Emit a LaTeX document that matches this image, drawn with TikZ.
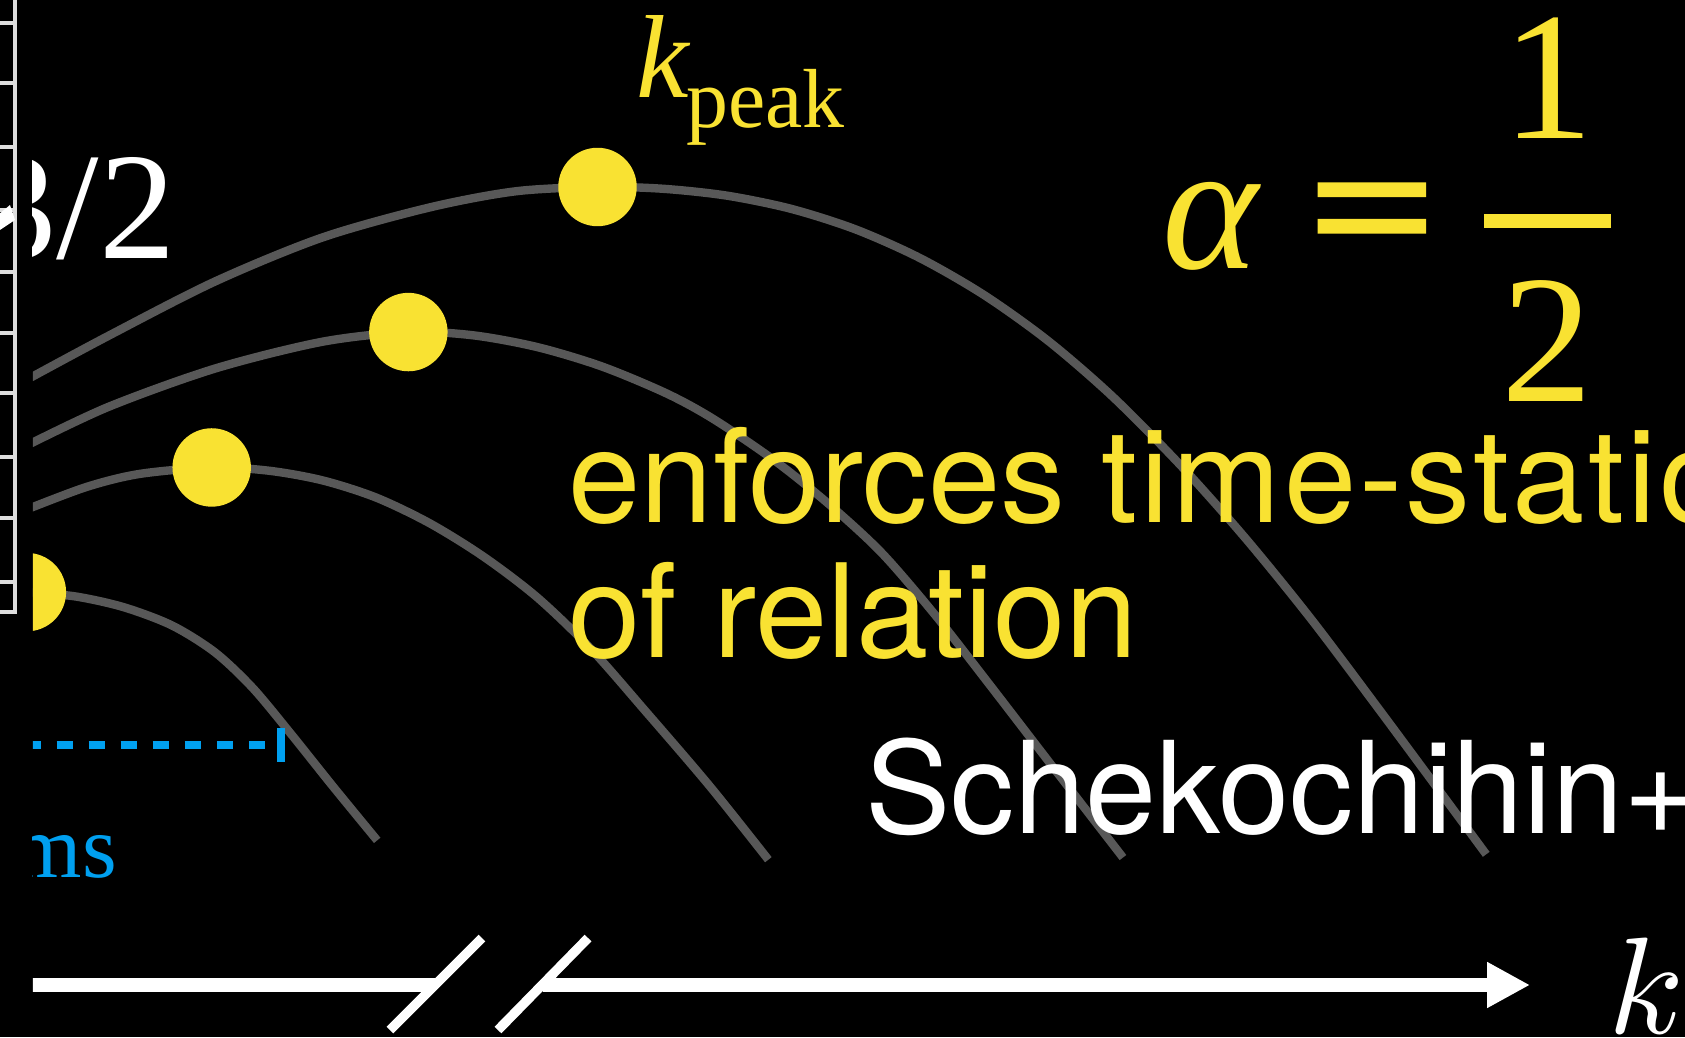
\documentclass[tikz,border=0pt]{standalone}
\usepackage{fontspec}
\newfontfamily\tms{Liberation Serif}
\newfontfamily\tmsb{Liberation Serif}[FakeBold=3]
\newfontfamily\hel{TeX Gyre Heros}
\usetikzlibrary{arrows.meta}
\definecolor{ylw}{RGB}{249,226,50}
\definecolor{crv}{RGB}{88,88,88}
\definecolor{blu}{RGB}{0,160,240}
\definecolor{frm}{RGB}{222,222,222}
\begin{document}
\begin{tikzpicture}[x=1pt,y=-1pt,
  txt/.style={inner sep=0pt,outer sep=0pt,anchor=base west},
  spec/.style={draw=crv,line width=7.8pt,line cap=butt},
  peakdot/.style={circle,fill=ylw,minimum size=73pt,inner sep=0pt},
  tick/.style={draw=frm,line width=3.7pt},
  brk/.style={draw=white,line width=8.8pt,line cap=butt}]
\useasboundingbox (0,0) rectangle (1568,965);
\fill[black] (0,0) rectangle (1568,965);
\clip (0,0) rectangle (1568,965);
% left frame
\draw[tick] (13.7,-5) -- (13.7,569.5) -- (-5,569.5);
\foreach \yy in {21.4,77.2,136.8,195.4,253.1,309.9,365.7,425.3,482,541.6}
  \draw[tick] (-5,\yy) -- (13.7,\yy);
\fill[white] (0,198.5) -- (9.3,190.8) -- (14,204.7) -- (0,214) -- cycle;
\begin{scope}
\clip (30.7,0) rectangle (1568,965);
% spectra
\draw[spec] plot[smooth] coordinates {(20,356) (100,313) (200,262) (300,221) (400,193) (480,178) (556,174) (616,175.6) (676,182) (736,194.3) (796,213.4) (856,240.1) (916,274.7) (976,317.7) (1036,369.7) (1100,434.5) (1160,502.1) (1220,576) (1280,655.7) (1340,736.7) (1383,795)};
\draw[spec] plot[smooth] coordinates {(20,417) (100,379) (200,343) (300,318) (380,309) (440,312) (500,323) (560,341) (620,366) (664,390) (720,428) (770,468) (820,514) (870,572) (920,636) (980,714) (1045,798)};
\draw[spec] plot[smooth] coordinates {(20,476) (80,453.3) (130,441) (197,435) (250,438) (300,447) (350,463) (400,487) (450,518) (500,556) (550,604) (600,661) (660,731) (715,800)};
\draw[spec] plot[smooth] coordinates {(25,551) (70,555) (115,565) (160,582) (200,607) (235,640) (270,682) (310,732) (351,782)};
\node[peakdot] (d1) at (556,174) {};
\node[peakdot] (d2) at (380,309) {};
\node[peakdot] (d3) at (197,435) {};
\node[peakdot] (d4) at (25,551) {};
% exponent text
\node[txt,text=white,font=\tms\fontsize{142}{142}\selectfont] (ex) at (-18,241) {3/2};
% blue dashed marker
\coordinate (dl) at (22.9,693);
\coordinate (dr) at (246.6,693);
\draw[blu,line width=7.5pt,dash pattern=on 15pt off 14.8pt] (dl) -- (dr);
\coordinate (bt) at (261.6,677);
\coordinate (bb) at (261.6,709);
\draw[blu,line width=7.5pt] (bt) -- (bb);
\node[txt,text=blu,font=\tms\fontsize{83}{83}\selectfont] (ms) at (12,817) {ms};
% axis
\coordinate (a0) at (20,916.6);
\coordinate (a1) at (404.8,916.6);
\coordinate (a2) at (505.3,916.6);
\coordinate (a3) at (1423.8,916.6);
\draw[white,line width=13pt] (a0) -- (a1);
\draw[white,line width=13pt,-{Triangle[length=40pt,width=40pt]}] (a2) -- (a3);
\coordinate (s1a) at (362.9,958.5);
\coordinate (s1b) at (448.5,872.9);
\coordinate (s2a) at (463.4,958.5);
\coordinate (s2b) at (547.2,872.9);
\draw[brk] (s1a) -- (s1b);
\draw[brk] (s2a) -- (s2b);
\end{scope}
% axis label
\node[txt,text=white] (kax) at (1497,962) {\scalebox{12.8}{$k$}};
% k_peak
\node[txt,text=ylw,font=\tms\itshape\fontsize{110}{110}\selectfont] (kp) at (592,91) {k};
\node[txt,text=ylw,font=\tms\fontsize{78}{78}\selectfont] (peak) at (638.6,119) {peak};
% alpha = 1/2
\node[inner sep=0pt,anchor=base,text=ylw,font=\tms\itshape\fontsize{170}{170}\selectfont] (alpha) at (1126,250) {α};
\node[inner sep=0pt,anchor=base,text=ylw,font=\tmsb\fontsize{170}{170}\selectfont] (eq) at (1276.5,250) {\scalebox{1.2}[1]{=}};
\node[inner sep=0pt,anchor=base,text=ylw,font=\tms\fontsize{170}{170}\selectfont] (num) at (1440.5,129) {1};
\node[inner sep=0pt,anchor=base,text=ylw,font=\tms\fontsize{170}{170}\selectfont] (den) at (1440,374) {2};
\coordinate (fl) at (1381,205.5);
\coordinate (fr) at (1499,205.5);
\draw[ylw,line width=12.5pt] (fl) -- (fr);
% yellow statement
\node[txt,text=ylw,font=\hel\fontsize{121}{121}\selectfont] (enf) at (529,485.8) {enforces {\addfontfeature{LetterSpace=2.4}time-statio}};
\node[txt,text=ylw,font=\hel\fontsize{121}{121}\selectfont] (rel) at (529,612.3) {of relation};
% citation
\node[txt,text=white,font=\hel\fontsize{119}{119}\selectfont] (cite) at (805,775.2) {Schekochihin+};
\end{tikzpicture}
\end{document}
